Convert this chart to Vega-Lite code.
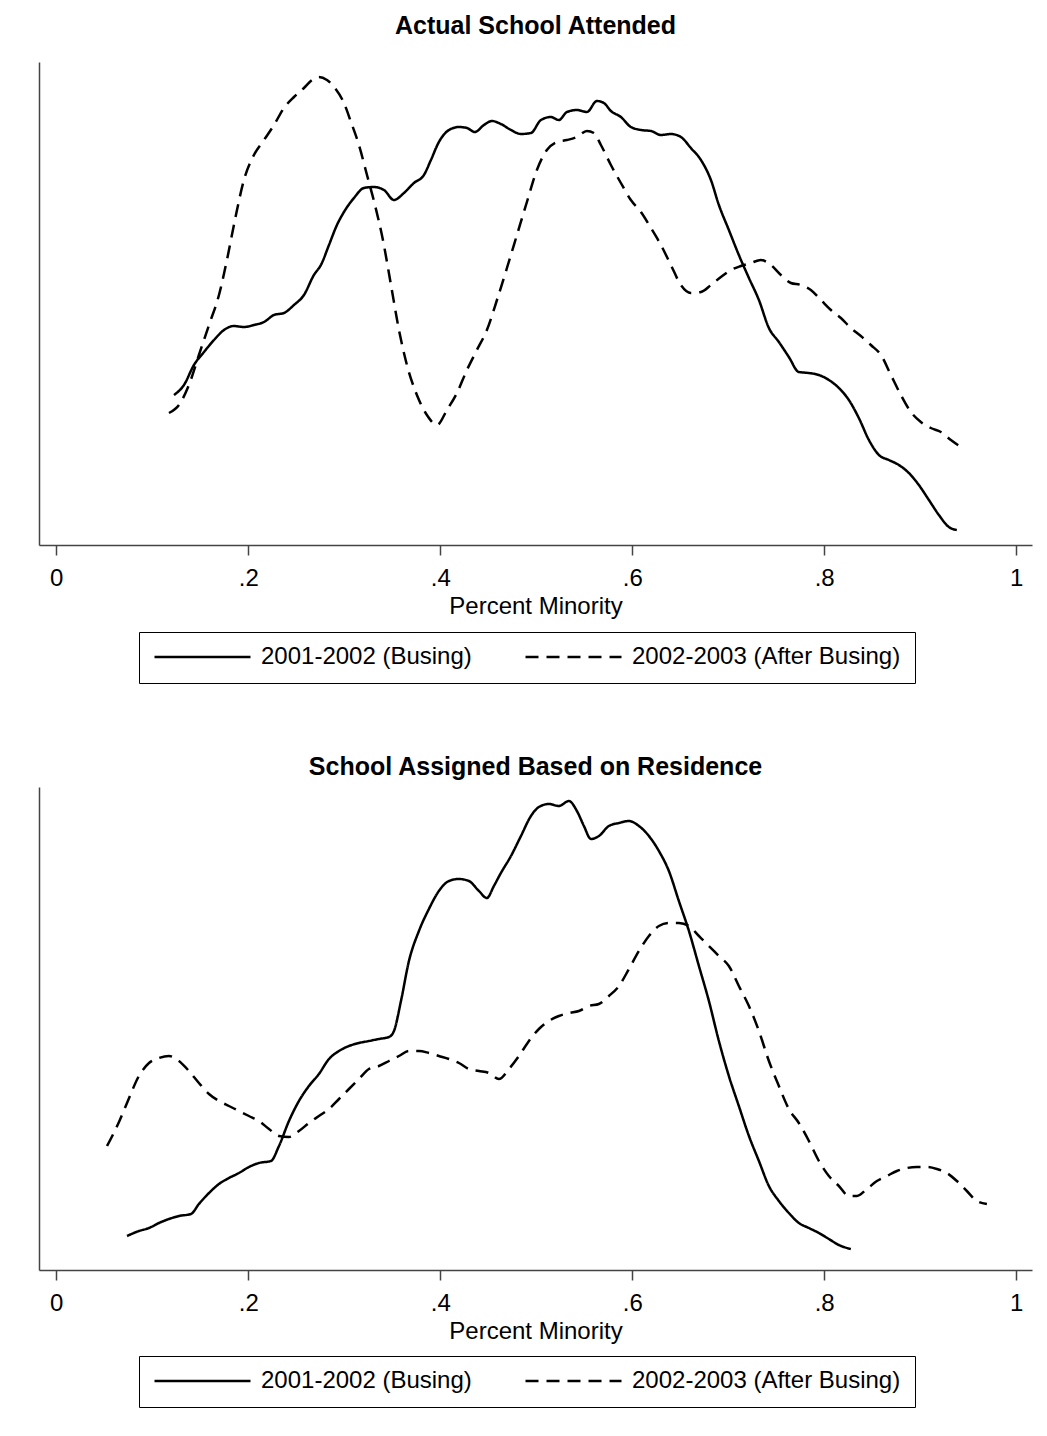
{
  "$schema": "https://vega.github.io/schema/vega-lite/v6.json",
  "background": "white",
  "padding": {"left": 39, "top": 14, "right": 10, "bottom": 10},
  "config": {
    "view": {"stroke": null},
    "font": "Liberation Sans",
    "concat": {"spacing": 71},
    "title": {"font": "Liberation Sans", "fontSize": 25, "fontWeight": "bold", "color": "black", "anchor": "middle"},
    "axis": {"grid": false}
  },
  "datasets": {
    "attended": [
      {"minority": 0.1226, "density": 1.50, "year": "2001-2002 (Busing)"},
      {"minority": 0.1330, "density": 1.60, "year": "2001-2002 (Busing)"},
      {"minority": 0.1434, "density": 1.80, "year": "2001-2002 (Busing)"},
      {"minority": 0.1539, "density": 1.93, "year": "2001-2002 (Busing)"},
      {"minority": 0.1643, "density": 2.05, "year": "2001-2002 (Busing)"},
      {"minority": 0.1747, "density": 2.15, "year": "2001-2002 (Busing)"},
      {"minority": 0.1851, "density": 2.19, "year": "2001-2002 (Busing)"},
      {"minority": 0.1955, "density": 2.18, "year": "2001-2002 (Busing)"},
      {"minority": 0.2059, "density": 2.20, "year": "2001-2002 (Busing)"},
      {"minority": 0.2164, "density": 2.23, "year": "2001-2002 (Busing)"},
      {"minority": 0.2268, "density": 2.30, "year": "2001-2002 (Busing)"},
      {"minority": 0.2372, "density": 2.32, "year": "2001-2002 (Busing)"},
      {"minority": 0.2476, "density": 2.40, "year": "2001-2002 (Busing)"},
      {"minority": 0.2580, "density": 2.50, "year": "2001-2002 (Busing)"},
      {"minority": 0.2684, "density": 2.70, "year": "2001-2002 (Busing)"},
      {"minority": 0.2757, "density": 2.80, "year": "2001-2002 (Busing)"},
      {"minority": 0.2841, "density": 3.00, "year": "2001-2002 (Busing)"},
      {"minority": 0.2924, "density": 3.20, "year": "2001-2002 (Busing)"},
      {"minority": 0.2997, "density": 3.33, "year": "2001-2002 (Busing)"},
      {"minority": 0.3101, "density": 3.47, "year": "2001-2002 (Busing)"},
      {"minority": 0.3205, "density": 3.57, "year": "2001-2002 (Busing)"},
      {"minority": 0.3309, "density": 3.58, "year": "2001-2002 (Busing)"},
      {"minority": 0.3414, "density": 3.55, "year": "2001-2002 (Busing)"},
      {"minority": 0.3518, "density": 3.45, "year": "2001-2002 (Busing)"},
      {"minority": 0.3622, "density": 3.52, "year": "2001-2002 (Busing)"},
      {"minority": 0.3726, "density": 3.62, "year": "2001-2002 (Busing)"},
      {"minority": 0.3830, "density": 3.70, "year": "2001-2002 (Busing)"},
      {"minority": 0.3903, "density": 3.85, "year": "2001-2002 (Busing)"},
      {"minority": 0.3986, "density": 4.03, "year": "2001-2002 (Busing)"},
      {"minority": 0.4091, "density": 4.15, "year": "2001-2002 (Busing)"},
      {"minority": 0.4195, "density": 4.18, "year": "2001-2002 (Busing)"},
      {"minority": 0.4278, "density": 4.17, "year": "2001-2002 (Busing)"},
      {"minority": 0.4361, "density": 4.13, "year": "2001-2002 (Busing)"},
      {"minority": 0.4455, "density": 4.20, "year": "2001-2002 (Busing)"},
      {"minority": 0.4539, "density": 4.24, "year": "2001-2002 (Busing)"},
      {"minority": 0.4632, "density": 4.21, "year": "2001-2002 (Busing)"},
      {"minority": 0.4737, "density": 4.15, "year": "2001-2002 (Busing)"},
      {"minority": 0.4841, "density": 4.11, "year": "2001-2002 (Busing)"},
      {"minority": 0.4945, "density": 4.12, "year": "2001-2002 (Busing)"},
      {"minority": 0.5049, "density": 4.25, "year": "2001-2002 (Busing)"},
      {"minority": 0.5153, "density": 4.28, "year": "2001-2002 (Busing)"},
      {"minority": 0.5236, "density": 4.25, "year": "2001-2002 (Busing)"},
      {"minority": 0.5320, "density": 4.33, "year": "2001-2002 (Busing)"},
      {"minority": 0.5424, "density": 4.35, "year": "2001-2002 (Busing)"},
      {"minority": 0.5528, "density": 4.33, "year": "2001-2002 (Busing)"},
      {"minority": 0.5632, "density": 4.44, "year": "2001-2002 (Busing)"},
      {"minority": 0.5705, "density": 4.42, "year": "2001-2002 (Busing)"},
      {"minority": 0.5778, "density": 4.34, "year": "2001-2002 (Busing)"},
      {"minority": 0.5882, "density": 4.28, "year": "2001-2002 (Busing)"},
      {"minority": 0.5986, "density": 4.18, "year": "2001-2002 (Busing)"},
      {"minority": 0.6091, "density": 4.15, "year": "2001-2002 (Busing)"},
      {"minority": 0.6195, "density": 4.14, "year": "2001-2002 (Busing)"},
      {"minority": 0.6299, "density": 4.10, "year": "2001-2002 (Busing)"},
      {"minority": 0.6403, "density": 4.11, "year": "2001-2002 (Busing)"},
      {"minority": 0.6507, "density": 4.08, "year": "2001-2002 (Busing)"},
      {"minority": 0.6611, "density": 3.97, "year": "2001-2002 (Busing)"},
      {"minority": 0.6716, "density": 3.85, "year": "2001-2002 (Busing)"},
      {"minority": 0.6820, "density": 3.65, "year": "2001-2002 (Busing)"},
      {"minority": 0.6903, "density": 3.40, "year": "2001-2002 (Busing)"},
      {"minority": 0.7007, "density": 3.15, "year": "2001-2002 (Busing)"},
      {"minority": 0.7111, "density": 2.90, "year": "2001-2002 (Busing)"},
      {"minority": 0.7216, "density": 2.67, "year": "2001-2002 (Busing)"},
      {"minority": 0.7320, "density": 2.45, "year": "2001-2002 (Busing)"},
      {"minority": 0.7424, "density": 2.17, "year": "2001-2002 (Busing)"},
      {"minority": 0.7528, "density": 2.03, "year": "2001-2002 (Busing)"},
      {"minority": 0.7632, "density": 1.88, "year": "2001-2002 (Busing)"},
      {"minority": 0.7736, "density": 1.73, "year": "2001-2002 (Busing)"},
      {"minority": 0.7841, "density": 1.72, "year": "2001-2002 (Busing)"},
      {"minority": 0.7945, "density": 1.70, "year": "2001-2002 (Busing)"},
      {"minority": 0.8049, "density": 1.65, "year": "2001-2002 (Busing)"},
      {"minority": 0.8153, "density": 1.57, "year": "2001-2002 (Busing)"},
      {"minority": 0.8257, "density": 1.45, "year": "2001-2002 (Busing)"},
      {"minority": 0.8361, "density": 1.27, "year": "2001-2002 (Busing)"},
      {"minority": 0.8466, "density": 1.05, "year": "2001-2002 (Busing)"},
      {"minority": 0.8570, "density": 0.90, "year": "2001-2002 (Busing)"},
      {"minority": 0.8674, "density": 0.85, "year": "2001-2002 (Busing)"},
      {"minority": 0.8778, "density": 0.80, "year": "2001-2002 (Busing)"},
      {"minority": 0.8882, "density": 0.72, "year": "2001-2002 (Busing)"},
      {"minority": 0.8986, "density": 0.60, "year": "2001-2002 (Busing)"},
      {"minority": 0.9091, "density": 0.45, "year": "2001-2002 (Busing)"},
      {"minority": 0.9195, "density": 0.30, "year": "2001-2002 (Busing)"},
      {"minority": 0.9299, "density": 0.18, "year": "2001-2002 (Busing)"},
      {"minority": 0.9382, "density": 0.15, "year": "2001-2002 (Busing)"},
      {"minority": 0.1174, "density": 1.32, "year": "2002-2003 (After Busing)"},
      {"minority": 0.1278, "density": 1.40, "year": "2002-2003 (After Busing)"},
      {"minority": 0.1382, "density": 1.60, "year": "2002-2003 (After Busing)"},
      {"minority": 0.1486, "density": 1.90, "year": "2002-2003 (After Busing)"},
      {"minority": 0.1591, "density": 2.20, "year": "2002-2003 (After Busing)"},
      {"minority": 0.1695, "density": 2.50, "year": "2002-2003 (After Busing)"},
      {"minority": 0.1778, "density": 2.85, "year": "2002-2003 (After Busing)"},
      {"minority": 0.1861, "density": 3.25, "year": "2002-2003 (After Busing)"},
      {"minority": 0.1955, "density": 3.65, "year": "2002-2003 (After Busing)"},
      {"minority": 0.2059, "density": 3.90, "year": "2002-2003 (After Busing)"},
      {"minority": 0.2164, "density": 4.05, "year": "2002-2003 (After Busing)"},
      {"minority": 0.2268, "density": 4.20, "year": "2002-2003 (After Busing)"},
      {"minority": 0.2372, "density": 4.37, "year": "2002-2003 (After Busing)"},
      {"minority": 0.2476, "density": 4.48, "year": "2002-2003 (After Busing)"},
      {"minority": 0.2580, "density": 4.57, "year": "2002-2003 (After Busing)"},
      {"minority": 0.2664, "density": 4.65, "year": "2002-2003 (After Busing)"},
      {"minority": 0.2736, "density": 4.68, "year": "2002-2003 (After Busing)"},
      {"minority": 0.2820, "density": 4.65, "year": "2002-2003 (After Busing)"},
      {"minority": 0.2903, "density": 4.57, "year": "2002-2003 (After Busing)"},
      {"minority": 0.2997, "density": 4.42, "year": "2002-2003 (After Busing)"},
      {"minority": 0.3070, "density": 4.23, "year": "2002-2003 (After Busing)"},
      {"minority": 0.3153, "density": 4.00, "year": "2002-2003 (After Busing)"},
      {"minority": 0.3237, "density": 3.70, "year": "2002-2003 (After Busing)"},
      {"minority": 0.3320, "density": 3.40, "year": "2002-2003 (After Busing)"},
      {"minority": 0.3403, "density": 3.05, "year": "2002-2003 (After Busing)"},
      {"minority": 0.3487, "density": 2.60, "year": "2002-2003 (After Busing)"},
      {"minority": 0.3570, "density": 2.15, "year": "2002-2003 (After Busing)"},
      {"minority": 0.3653, "density": 1.80, "year": "2002-2003 (After Busing)"},
      {"minority": 0.3757, "density": 1.50, "year": "2002-2003 (After Busing)"},
      {"minority": 0.3861, "density": 1.30, "year": "2002-2003 (After Busing)"},
      {"minority": 0.3966, "density": 1.20, "year": "2002-2003 (After Busing)"},
      {"minority": 0.4070, "density": 1.35, "year": "2002-2003 (After Busing)"},
      {"minority": 0.4174, "density": 1.52, "year": "2002-2003 (After Busing)"},
      {"minority": 0.4278, "density": 1.75, "year": "2002-2003 (After Busing)"},
      {"minority": 0.4382, "density": 1.95, "year": "2002-2003 (After Busing)"},
      {"minority": 0.4486, "density": 2.15, "year": "2002-2003 (After Busing)"},
      {"minority": 0.4591, "density": 2.45, "year": "2002-2003 (After Busing)"},
      {"minority": 0.4695, "density": 2.77, "year": "2002-2003 (After Busing)"},
      {"minority": 0.4799, "density": 3.10, "year": "2002-2003 (After Busing)"},
      {"minority": 0.4903, "density": 3.43, "year": "2002-2003 (After Busing)"},
      {"minority": 0.5007, "density": 3.75, "year": "2002-2003 (After Busing)"},
      {"minority": 0.5111, "density": 3.95, "year": "2002-2003 (After Busing)"},
      {"minority": 0.5216, "density": 4.03, "year": "2002-2003 (After Busing)"},
      {"minority": 0.5320, "density": 4.05, "year": "2002-2003 (After Busing)"},
      {"minority": 0.5424, "density": 4.08, "year": "2002-2003 (After Busing)"},
      {"minority": 0.5528, "density": 4.14, "year": "2002-2003 (After Busing)"},
      {"minority": 0.5601, "density": 4.12, "year": "2002-2003 (After Busing)"},
      {"minority": 0.5674, "density": 4.00, "year": "2002-2003 (After Busing)"},
      {"minority": 0.5778, "density": 3.80, "year": "2002-2003 (After Busing)"},
      {"minority": 0.5882, "density": 3.62, "year": "2002-2003 (After Busing)"},
      {"minority": 0.5986, "density": 3.45, "year": "2002-2003 (After Busing)"},
      {"minority": 0.6091, "density": 3.33, "year": "2002-2003 (After Busing)"},
      {"minority": 0.6195, "density": 3.17, "year": "2002-2003 (After Busing)"},
      {"minority": 0.6299, "density": 3.00, "year": "2002-2003 (After Busing)"},
      {"minority": 0.6403, "density": 2.80, "year": "2002-2003 (After Busing)"},
      {"minority": 0.6507, "density": 2.60, "year": "2002-2003 (After Busing)"},
      {"minority": 0.6611, "density": 2.52, "year": "2002-2003 (After Busing)"},
      {"minority": 0.6716, "density": 2.53, "year": "2002-2003 (After Busing)"},
      {"minority": 0.6820, "density": 2.60, "year": "2002-2003 (After Busing)"},
      {"minority": 0.6924, "density": 2.68, "year": "2002-2003 (After Busing)"},
      {"minority": 0.7028, "density": 2.75, "year": "2002-2003 (After Busing)"},
      {"minority": 0.7132, "density": 2.79, "year": "2002-2003 (After Busing)"},
      {"minority": 0.7236, "density": 2.82, "year": "2002-2003 (After Busing)"},
      {"minority": 0.7340, "density": 2.85, "year": "2002-2003 (After Busing)"},
      {"minority": 0.7445, "density": 2.80, "year": "2002-2003 (After Busing)"},
      {"minority": 0.7549, "density": 2.70, "year": "2002-2003 (After Busing)"},
      {"minority": 0.7653, "density": 2.62, "year": "2002-2003 (After Busing)"},
      {"minority": 0.7757, "density": 2.60, "year": "2002-2003 (After Busing)"},
      {"minority": 0.7861, "density": 2.55, "year": "2002-2003 (After Busing)"},
      {"minority": 0.7966, "density": 2.45, "year": "2002-2003 (After Busing)"},
      {"minority": 0.8070, "density": 2.35, "year": "2002-2003 (After Busing)"},
      {"minority": 0.8174, "density": 2.27, "year": "2002-2003 (After Busing)"},
      {"minority": 0.8278, "density": 2.17, "year": "2002-2003 (After Busing)"},
      {"minority": 0.8382, "density": 2.09, "year": "2002-2003 (After Busing)"},
      {"minority": 0.8486, "density": 2.00, "year": "2002-2003 (After Busing)"},
      {"minority": 0.8591, "density": 1.90, "year": "2002-2003 (After Busing)"},
      {"minority": 0.8695, "density": 1.70, "year": "2002-2003 (After Busing)"},
      {"minority": 0.8799, "density": 1.50, "year": "2002-2003 (After Busing)"},
      {"minority": 0.8903, "density": 1.33, "year": "2002-2003 (After Busing)"},
      {"minority": 0.9007, "density": 1.23, "year": "2002-2003 (After Busing)"},
      {"minority": 0.9111, "density": 1.17, "year": "2002-2003 (After Busing)"},
      {"minority": 0.9216, "density": 1.13, "year": "2002-2003 (After Busing)"},
      {"minority": 0.9320, "density": 1.05, "year": "2002-2003 (After Busing)"},
      {"minority": 0.9424, "density": 0.98, "year": "2002-2003 (After Busing)"}
    ],
    "assigned": [
      {"minority": 0.0737, "density": 0.34, "year": "2001-2002 (Busing)"},
      {"minority": 0.0861, "density": 0.39, "year": "2001-2002 (Busing)"},
      {"minority": 0.0966, "density": 0.42, "year": "2001-2002 (Busing)"},
      {"minority": 0.1070, "density": 0.47, "year": "2001-2002 (Busing)"},
      {"minority": 0.1174, "density": 0.51, "year": "2001-2002 (Busing)"},
      {"minority": 0.1278, "density": 0.54, "year": "2001-2002 (Busing)"},
      {"minority": 0.1403, "density": 0.56, "year": "2001-2002 (Busing)"},
      {"minority": 0.1486, "density": 0.66, "year": "2001-2002 (Busing)"},
      {"minority": 0.1591, "density": 0.77, "year": "2001-2002 (Busing)"},
      {"minority": 0.1695, "density": 0.86, "year": "2001-2002 (Busing)"},
      {"minority": 0.1799, "density": 0.92, "year": "2001-2002 (Busing)"},
      {"minority": 0.1903, "density": 0.97, "year": "2001-2002 (Busing)"},
      {"minority": 0.2007, "density": 1.03, "year": "2001-2002 (Busing)"},
      {"minority": 0.2111, "density": 1.07, "year": "2001-2002 (Busing)"},
      {"minority": 0.2236, "density": 1.09, "year": "2001-2002 (Busing)"},
      {"minority": 0.2320, "density": 1.24, "year": "2001-2002 (Busing)"},
      {"minority": 0.2424, "density": 1.49, "year": "2001-2002 (Busing)"},
      {"minority": 0.2528, "density": 1.69, "year": "2001-2002 (Busing)"},
      {"minority": 0.2632, "density": 1.84, "year": "2001-2002 (Busing)"},
      {"minority": 0.2736, "density": 1.96, "year": "2001-2002 (Busing)"},
      {"minority": 0.2841, "density": 2.11, "year": "2001-2002 (Busing)"},
      {"minority": 0.2945, "density": 2.19, "year": "2001-2002 (Busing)"},
      {"minority": 0.3049, "density": 2.24, "year": "2001-2002 (Busing)"},
      {"minority": 0.3153, "density": 2.27, "year": "2001-2002 (Busing)"},
      {"minority": 0.3257, "density": 2.29, "year": "2001-2002 (Busing)"},
      {"minority": 0.3361, "density": 2.31, "year": "2001-2002 (Busing)"},
      {"minority": 0.3466, "density": 2.33, "year": "2001-2002 (Busing)"},
      {"minority": 0.3518, "density": 2.39, "year": "2001-2002 (Busing)"},
      {"minority": 0.3591, "density": 2.69, "year": "2001-2002 (Busing)"},
      {"minority": 0.3674, "density": 3.09, "year": "2001-2002 (Busing)"},
      {"minority": 0.3778, "density": 3.39, "year": "2001-2002 (Busing)"},
      {"minority": 0.3882, "density": 3.61, "year": "2001-2002 (Busing)"},
      {"minority": 0.3986, "density": 3.79, "year": "2001-2002 (Busing)"},
      {"minority": 0.4091, "density": 3.89, "year": "2001-2002 (Busing)"},
      {"minority": 0.4195, "density": 3.91, "year": "2001-2002 (Busing)"},
      {"minority": 0.4299, "density": 3.89, "year": "2001-2002 (Busing)"},
      {"minority": 0.4403, "density": 3.79, "year": "2001-2002 (Busing)"},
      {"minority": 0.4486, "density": 3.72, "year": "2001-2002 (Busing)"},
      {"minority": 0.4559, "density": 3.84, "year": "2001-2002 (Busing)"},
      {"minority": 0.4632, "density": 3.97, "year": "2001-2002 (Busing)"},
      {"minority": 0.4737, "density": 4.14, "year": "2001-2002 (Busing)"},
      {"minority": 0.4841, "density": 4.34, "year": "2001-2002 (Busing)"},
      {"minority": 0.4945, "density": 4.54, "year": "2001-2002 (Busing)"},
      {"minority": 0.5028, "density": 4.63, "year": "2001-2002 (Busing)"},
      {"minority": 0.5132, "density": 4.66, "year": "2001-2002 (Busing)"},
      {"minority": 0.5236, "density": 4.64, "year": "2001-2002 (Busing)"},
      {"minority": 0.5341, "density": 4.69, "year": "2001-2002 (Busing)"},
      {"minority": 0.5424, "density": 4.59, "year": "2001-2002 (Busing)"},
      {"minority": 0.5497, "density": 4.44, "year": "2001-2002 (Busing)"},
      {"minority": 0.5570, "density": 4.31, "year": "2001-2002 (Busing)"},
      {"minority": 0.5653, "density": 4.34, "year": "2001-2002 (Busing)"},
      {"minority": 0.5757, "density": 4.44, "year": "2001-2002 (Busing)"},
      {"minority": 0.5862, "density": 4.47, "year": "2001-2002 (Busing)"},
      {"minority": 0.5966, "density": 4.49, "year": "2001-2002 (Busing)"},
      {"minority": 0.6070, "density": 4.44, "year": "2001-2002 (Busing)"},
      {"minority": 0.6174, "density": 4.34, "year": "2001-2002 (Busing)"},
      {"minority": 0.6278, "density": 4.19, "year": "2001-2002 (Busing)"},
      {"minority": 0.6382, "density": 3.99, "year": "2001-2002 (Busing)"},
      {"minority": 0.6486, "density": 3.69, "year": "2001-2002 (Busing)"},
      {"minority": 0.6591, "density": 3.39, "year": "2001-2002 (Busing)"},
      {"minority": 0.6695, "density": 3.04, "year": "2001-2002 (Busing)"},
      {"minority": 0.6799, "density": 2.69, "year": "2001-2002 (Busing)"},
      {"minority": 0.6903, "density": 2.29, "year": "2001-2002 (Busing)"},
      {"minority": 0.7007, "density": 1.94, "year": "2001-2002 (Busing)"},
      {"minority": 0.7111, "density": 1.64, "year": "2001-2002 (Busing)"},
      {"minority": 0.7216, "density": 1.34, "year": "2001-2002 (Busing)"},
      {"minority": 0.7320, "density": 1.09, "year": "2001-2002 (Busing)"},
      {"minority": 0.7424, "density": 0.84, "year": "2001-2002 (Busing)"},
      {"minority": 0.7528, "density": 0.69, "year": "2001-2002 (Busing)"},
      {"minority": 0.7632, "density": 0.57, "year": "2001-2002 (Busing)"},
      {"minority": 0.7736, "density": 0.47, "year": "2001-2002 (Busing)"},
      {"minority": 0.7841, "density": 0.42, "year": "2001-2002 (Busing)"},
      {"minority": 0.7945, "density": 0.37, "year": "2001-2002 (Busing)"},
      {"minority": 0.8049, "density": 0.31, "year": "2001-2002 (Busing)"},
      {"minority": 0.8153, "density": 0.25, "year": "2001-2002 (Busing)"},
      {"minority": 0.8278, "density": 0.21, "year": "2001-2002 (Busing)"},
      {"minority": 0.0529, "density": 1.24, "year": "2002-2003 (After Busing)"},
      {"minority": 0.0634, "density": 1.44, "year": "2002-2003 (After Busing)"},
      {"minority": 0.0737, "density": 1.67, "year": "2002-2003 (After Busing)"},
      {"minority": 0.0861, "density": 1.94, "year": "2002-2003 (After Busing)"},
      {"minority": 0.0966, "density": 2.07, "year": "2002-2003 (After Busing)"},
      {"minority": 0.1070, "density": 2.12, "year": "2002-2003 (After Busing)"},
      {"minority": 0.1174, "density": 2.14, "year": "2002-2003 (After Busing)"},
      {"minority": 0.1278, "density": 2.09, "year": "2002-2003 (After Busing)"},
      {"minority": 0.1382, "density": 1.99, "year": "2002-2003 (After Busing)"},
      {"minority": 0.1486, "density": 1.87, "year": "2002-2003 (After Busing)"},
      {"minority": 0.1591, "density": 1.76, "year": "2002-2003 (After Busing)"},
      {"minority": 0.1695, "density": 1.69, "year": "2002-2003 (After Busing)"},
      {"minority": 0.1799, "density": 1.64, "year": "2002-2003 (After Busing)"},
      {"minority": 0.1903, "density": 1.59, "year": "2002-2003 (After Busing)"},
      {"minority": 0.2007, "density": 1.54, "year": "2002-2003 (After Busing)"},
      {"minority": 0.2111, "density": 1.49, "year": "2002-2003 (After Busing)"},
      {"minority": 0.2216, "density": 1.41, "year": "2002-2003 (After Busing)"},
      {"minority": 0.2320, "density": 1.34, "year": "2002-2003 (After Busing)"},
      {"minority": 0.2424, "density": 1.33, "year": "2002-2003 (After Busing)"},
      {"minority": 0.2528, "density": 1.39, "year": "2002-2003 (After Busing)"},
      {"minority": 0.2632, "density": 1.47, "year": "2002-2003 (After Busing)"},
      {"minority": 0.2736, "density": 1.54, "year": "2002-2003 (After Busing)"},
      {"minority": 0.2841, "density": 1.61, "year": "2002-2003 (After Busing)"},
      {"minority": 0.2945, "density": 1.71, "year": "2002-2003 (After Busing)"},
      {"minority": 0.3049, "density": 1.81, "year": "2002-2003 (After Busing)"},
      {"minority": 0.3153, "density": 1.91, "year": "2002-2003 (After Busing)"},
      {"minority": 0.3257, "density": 2.01, "year": "2002-2003 (After Busing)"},
      {"minority": 0.3361, "density": 2.04, "year": "2002-2003 (After Busing)"},
      {"minority": 0.3466, "density": 2.09, "year": "2002-2003 (After Busing)"},
      {"minority": 0.3570, "density": 2.14, "year": "2002-2003 (After Busing)"},
      {"minority": 0.3674, "density": 2.19, "year": "2002-2003 (After Busing)"},
      {"minority": 0.3778, "density": 2.19, "year": "2002-2003 (After Busing)"},
      {"minority": 0.3882, "density": 2.17, "year": "2002-2003 (After Busing)"},
      {"minority": 0.3986, "density": 2.14, "year": "2002-2003 (After Busing)"},
      {"minority": 0.4091, "density": 2.11, "year": "2002-2003 (After Busing)"},
      {"minority": 0.4195, "density": 2.07, "year": "2002-2003 (After Busing)"},
      {"minority": 0.4299, "density": 2.01, "year": "2002-2003 (After Busing)"},
      {"minority": 0.4403, "density": 1.99, "year": "2002-2003 (After Busing)"},
      {"minority": 0.4507, "density": 1.97, "year": "2002-2003 (After Busing)"},
      {"minority": 0.4611, "density": 1.91, "year": "2002-2003 (After Busing)"},
      {"minority": 0.4716, "density": 2.01, "year": "2002-2003 (After Busing)"},
      {"minority": 0.4820, "density": 2.14, "year": "2002-2003 (After Busing)"},
      {"minority": 0.4924, "density": 2.29, "year": "2002-2003 (After Busing)"},
      {"minority": 0.5028, "density": 2.41, "year": "2002-2003 (After Busing)"},
      {"minority": 0.5132, "density": 2.49, "year": "2002-2003 (After Busing)"},
      {"minority": 0.5236, "density": 2.54, "year": "2002-2003 (After Busing)"},
      {"minority": 0.5341, "density": 2.57, "year": "2002-2003 (After Busing)"},
      {"minority": 0.5445, "density": 2.59, "year": "2002-2003 (After Busing)"},
      {"minority": 0.5549, "density": 2.64, "year": "2002-2003 (After Busing)"},
      {"minority": 0.5653, "density": 2.66, "year": "2002-2003 (After Busing)"},
      {"minority": 0.5757, "density": 2.74, "year": "2002-2003 (After Busing)"},
      {"minority": 0.5862, "density": 2.84, "year": "2002-2003 (After Busing)"},
      {"minority": 0.5966, "density": 3.01, "year": "2002-2003 (After Busing)"},
      {"minority": 0.6070, "density": 3.19, "year": "2002-2003 (After Busing)"},
      {"minority": 0.6174, "density": 3.34, "year": "2002-2003 (After Busing)"},
      {"minority": 0.6278, "density": 3.44, "year": "2002-2003 (After Busing)"},
      {"minority": 0.6382, "density": 3.47, "year": "2002-2003 (After Busing)"},
      {"minority": 0.6486, "density": 3.47, "year": "2002-2003 (After Busing)"},
      {"minority": 0.6591, "density": 3.44, "year": "2002-2003 (After Busing)"},
      {"minority": 0.6695, "density": 3.34, "year": "2002-2003 (After Busing)"},
      {"minority": 0.6799, "density": 3.24, "year": "2002-2003 (After Busing)"},
      {"minority": 0.6903, "density": 3.14, "year": "2002-2003 (After Busing)"},
      {"minority": 0.7007, "density": 3.04, "year": "2002-2003 (After Busing)"},
      {"minority": 0.7111, "density": 2.84, "year": "2002-2003 (After Busing)"},
      {"minority": 0.7216, "density": 2.64, "year": "2002-2003 (After Busing)"},
      {"minority": 0.7320, "density": 2.39, "year": "2002-2003 (After Busing)"},
      {"minority": 0.7424, "density": 2.09, "year": "2002-2003 (After Busing)"},
      {"minority": 0.7528, "density": 1.84, "year": "2002-2003 (After Busing)"},
      {"minority": 0.7632, "density": 1.61, "year": "2002-2003 (After Busing)"},
      {"minority": 0.7736, "density": 1.47, "year": "2002-2003 (After Busing)"},
      {"minority": 0.7841, "density": 1.29, "year": "2002-2003 (After Busing)"},
      {"minority": 0.7945, "density": 1.09, "year": "2002-2003 (After Busing)"},
      {"minority": 0.8049, "density": 0.94, "year": "2002-2003 (After Busing)"},
      {"minority": 0.8153, "density": 0.84, "year": "2002-2003 (After Busing)"},
      {"minority": 0.8257, "density": 0.74, "year": "2002-2003 (After Busing)"},
      {"minority": 0.8341, "density": 0.74, "year": "2002-2003 (After Busing)"},
      {"minority": 0.8445, "density": 0.81, "year": "2002-2003 (After Busing)"},
      {"minority": 0.8549, "density": 0.89, "year": "2002-2003 (After Busing)"},
      {"minority": 0.8653, "density": 0.94, "year": "2002-2003 (After Busing)"},
      {"minority": 0.8757, "density": 0.99, "year": "2002-2003 (After Busing)"},
      {"minority": 0.8861, "density": 1.02, "year": "2002-2003 (After Busing)"},
      {"minority": 0.8966, "density": 1.03, "year": "2002-2003 (After Busing)"},
      {"minority": 0.9070, "density": 1.03, "year": "2002-2003 (After Busing)"},
      {"minority": 0.9174, "density": 1.01, "year": "2002-2003 (After Busing)"},
      {"minority": 0.9278, "density": 0.97, "year": "2002-2003 (After Busing)"},
      {"minority": 0.9382, "density": 0.89, "year": "2002-2003 (After Busing)"},
      {"minority": 0.9486, "density": 0.79, "year": "2002-2003 (After Busing)"},
      {"minority": 0.9591, "density": 0.69, "year": "2002-2003 (After Busing)"},
      {"minority": 0.9695, "density": 0.66, "year": "2002-2003 (After Busing)"}
    ]
  },
  "resolve": {
    "scale": {"x": "independent", "y": "independent", "strokeDash": "independent"},
    "legend": {"strokeDash": "independent"}
  },
  "vconcat": [
    {
      "title": {"text": "Actual School Attended", "offset": 23},
      "width": 993,
      "height": 483,
      "data": {"name": "attended"},
      "mark": {"type": "line", "color": "black", "strokeWidth": 2.5, "interpolate": "monotone"},
      "encoding": {
        "x": {"field": "minority", "type": "quantitative", "title": "Percent Minority",
          "scale": {"domain": [-0.018, 1.0165], "nice": false, "zero": false},
          "axis": {"values": [0, 0.2, 0.4, 0.6, 0.8, 1],
            "labelExpr": "datum.value == 0 ? '0' : datum.value == 1 ? '1' : replace(format(datum.value, '.1f'), '0.', '.')",
            "labelFont": "Liberation Sans", "labelFontSize": 24, "labelColor": "black", "labelPadding": 11,
            "tickSize": 10, "tickColor": "#444", "tickWidth": 1.5, "domainColor": "#444", "domainWidth": 1.5,
            "titleFont": "Liberation Sans", "titleFontSize": 24, "titleFontWeight": "normal", "titleColor": "black", "titlePadding": 4}},
        "y": {"field": "density", "type": "quantitative",
          "scale": {"domain": [0, 4.83], "nice": false, "zero": true},
          "axis": {"title": null, "labels": false, "ticks": false, "grid": false, "domainColor": "#444", "domainWidth": 1.5}},
        "strokeDash": {"field": "year", "type": "nominal",
          "scale": {"domain": ["2001-2002 (Busing)", "2002-2003 (After Busing)"], "range": [[1, 0], [13, 8]]},
          "legend": {"orient": "none", "legendX": 100, "legendY": 570, "direction": "horizontal", "columns": 2, "title": null,
            "symbolType": "stroke", "symbolSize": 9216, "symbolStrokeWidth": 2.5, "symbolStrokeColor": "black",
            "labelFont": "Liberation Sans", "labelFontSize": 24, "labelColor": "black", "labelOffset": 9, "labelLimit": 400,
            "columnPadding": 52, "padding": 14, "strokeColor": "black", "clipHeight": 22}}
      }
    },
    {
      "title": {"text": "School Assigned Based on Residence", "offset": 7},
      "width": 993,
      "height": 483,
      "data": {"name": "assigned"},
      "mark": {"type": "line", "color": "black", "strokeWidth": 2.5, "interpolate": "monotone"},
      "encoding": {
        "x": {"field": "minority", "type": "quantitative", "title": "Percent Minority",
          "scale": {"domain": [-0.018, 1.0165], "nice": false, "zero": false},
          "axis": {"values": [0, 0.2, 0.4, 0.6, 0.8, 1],
            "labelExpr": "datum.value == 0 ? '0' : datum.value == 1 ? '1' : replace(format(datum.value, '.1f'), '0.', '.')",
            "labelFont": "Liberation Sans", "labelFontSize": 24, "labelColor": "black", "labelPadding": 11,
            "tickSize": 10, "tickColor": "#444", "tickWidth": 1.5, "domainColor": "#444", "domainWidth": 1.5,
            "titleFont": "Liberation Sans", "titleFontSize": 24, "titleFontWeight": "normal", "titleColor": "black", "titlePadding": 4}},
        "y": {"field": "density", "type": "quantitative",
          "scale": {"domain": [0, 4.83], "nice": false, "zero": true},
          "axis": {"title": null, "labels": false, "ticks": false, "grid": false, "domainColor": "#444", "domainWidth": 1.5}},
        "strokeDash": {"field": "year", "type": "nominal",
          "scale": {"domain": ["2001-2002 (Busing)", "2002-2003 (After Busing)"], "range": [[1, 0], [13, 8]]},
          "legend": {"orient": "none", "legendX": 100, "legendY": 569, "direction": "horizontal", "columns": 2, "title": null,
            "symbolType": "stroke", "symbolSize": 9216, "symbolStrokeWidth": 2.5, "symbolStrokeColor": "black",
            "labelFont": "Liberation Sans", "labelFontSize": 24, "labelColor": "black", "labelOffset": 9, "labelLimit": 400,
            "columnPadding": 52, "padding": 14, "strokeColor": "black", "clipHeight": 22}}
      }
    }
  ]
}
